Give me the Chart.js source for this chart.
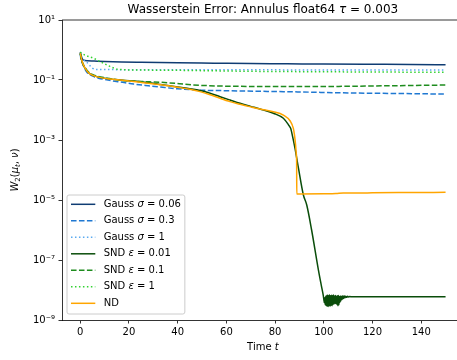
<!DOCTYPE html>
<html><head><meta charset="utf-8">
<script src="https://cdn.jsdelivr.net/npm/chart.js@4"></script>
<style>html,body{margin:0;padding:0;background:#fff;}canvas{display:block;}</style>
</head><body>
<canvas id="c" width="457" height="360"></canvas>
<script>
// ---- text ----
const titleSegs = [{t:'Wasserstein Error: Annulus float64 '},{t:'τ',i:1},{t:' = 0.003'}];
const xTitleSegs = [{t:'Time '},{t:'t',i:1}];
const yTitleSegs = [{t:'W',i:1},{t:'2',sub:1},{t:'('},{t:'μ',i:1},{t:'t',i:1,sub:1},{t:', '},{t:'ν',i:1},{t:')'}];
const seriesNames = [
  [{t:'Gauss '},{t:'σ',i:1},{t:' = 0.06'}],
  [{t:'Gauss '},{t:'σ',i:1},{t:' = 0.3'}],
  [{t:'Gauss '},{t:'σ',i:1},{t:' = 1'}],
  [{t:'SND '},{t:'ε',i:1},{t:' = 0.01'}],
  [{t:'SND '},{t:'ε',i:1},{t:' = 0.1'}],
  [{t:'SND '},{t:'ε',i:1},{t:' = 1'}],
  [{t:'ND'}]
];
const seriesLabels = ['Gauss σ = 0.06','Gauss σ = 0.3','Gauss σ = 1','SND ε = 0.01','SND ε = 0.1','SND ε = 1','ND'];

// ---- ticks ----
const xTicks = [0,20,40,60,80,100,120,140];
const yTicks = [1e-9,1e-7,1e-5,1e-3,1e-1,1e1];
const yTickLabels = ['10⁻⁹','10⁻⁷','10⁻⁵','10⁻³','10⁻¹','10¹'];

// ---- data ----
const tGauss006 = [0,0.5,1.3,3,5.7,10,17,25,40,55,70,85,100,125,150];
const vGauss006 = [0.85,0.6,0.46,0.44,0.43,0.415,0.40,0.39,0.375,0.365,0.355,0.348,0.34,0.332,0.324];

const tGauss03 = [0,0.2,0.8,1.6,2.9,4,5.7,7.5,9.8,13,17.3,22,28,33,40,49,60,74,90,110,130,150];
const vGauss03 = [0.75,0.55,0.38,0.26,0.175,0.15,0.129,0.115,0.105,0.094,0.084,0.073,0.064,0.058,0.051,0.046,0.044,0.042,0.040,0.037,0.0355,0.034];

const tGauss1 = [0,0.3,1,2,3,4,5,6,8,12,20,40,70,100,150];
const vGauss1 = [0.8,0.65,0.5,0.42,0.37,0.3,0.25,0.228,0.223,0.222,0.221,0.22,0.218,0.217,0.215];

const tSnd001 = [0,0.5,1,2,3,4.3,6,8.4,12,17.3,25,33,40,45,49.2,53,57.4,61.5,65.6,70,73.8,79.3,83.4,85.5,86.4,87.2,88.2,89.6,91.6,93,95,97.8,99,99.8,
  100.0,100.2,100.4,100.6,100.8,101.0,101.2,101.4,101.6,101.8,102.0,102.2,102.4,102.6,102.8,103.0,103.2,103.4,103.6,103.8,
  104.0,104.2,104.4,104.6,104.8,105.0,105.2,105.4,105.6,105.8,106.0,106.2,106.4,106.6,106.8,107.0,107.2,107.5,107.8,108.1,
  108.4,108.7,109.0,109.4,109.8,110.2,110.6,111,120,135,150];
const vSnd001 = [0.76,0.48,0.35,0.245,0.19,0.155,0.135,0.12,0.109,0.099,0.087,0.071,0.058,0.051,0.0447,0.037,0.0278,0.0215,0.0167,0.0132,0.0108,0.0078,0.0053,0.0032,0.00245,0.0013,5.2e-4,1.15e-4,1.5e-5,6.8e-6,1.0e-6,4.6e-8,1.4e-8,6.5e-9,
  5.0e-9,3.8e-9,5.5e-9,3.2e-9,6.2e-9,3.0e-9,6.5e-9,2.9e-9,6.8e-9,2.8e-9,6.6e-9,3.0e-9,6.9e-9,2.9e-9,6.4e-9,3.1e-9,6.7e-9,3.0e-9,6.5e-9,3.3e-9,
  6.8e-9,3.4e-9,6.3e-9,3.6e-9,6.6e-9,3.5e-9,6.2e-9,3.3e-9,6.4e-9,3.0e-9,6.5e-9,3.2e-9,6.1e-9,3.9e-9,6.3e-9,4.3e-9,6.2e-9,4.8e-9,6.4e-9,5.2e-9,
  6.3e-9,5.5e-9,6.2e-9,5.7e-9,6.2e-9,5.8e-9,6.1e-9,6.0e-9,6.0e-9,6.0e-9,6.0e-9];

const tSnd01 = [0,0.5,1,2,3,4.3,6,8.4,12,17.3,25,33,50,75,100,125,150];
const vSnd01 = [0.78,0.5,0.37,0.26,0.2,0.162,0.142,0.126,0.112,0.096,0.089,0.084,0.066,0.061,0.061,0.064,0.068];

const tSnd1 = [0,1,1.8,3.6,5.7,7.7,10.5,13.2,15.2,18,25,40,70,100,125,150];
const vSnd1 = [0.85,0.74,0.68,0.6,0.52,0.43,0.33,0.26,0.23,0.22,0.215,0.21,0.195,0.188,0.184,0.18];

const tND = [0,0.5,1,2,3,4.3,6,8.4,12,17.3,25,33,40,45,49.2,53,57.4,61.5,65.6,70,73.8,79.3,83.4,86.2,87.5,88,88.4,88.7,88.85,88.9,90,100,105,108,115,120,135,150];
const vND = [0.78,0.5,0.36,0.25,0.19,0.155,0.135,0.12,0.108,0.098,0.083,0.069,0.0575,0.049,0.041,0.033,0.0245,0.019,0.0155,0.0127,0.0108,0.0088,0.0068,0.0043,0.00245,0.0014,0.0007,0.00035,0.00018,1.6e-5,1.6e-5,1.62e-5,1.65e-5,1.72e-5,1.7e-5,1.75e-5,1.78e-5,1.8e-5];

// ---- styles ----
const colors = ['#0f3c73','#1f78d2','#5aaaf0','#0a4d0a','#1e8c1e','#32d232','#ffa500'];
const dashes = [[],[5.55,2.4],[1.5,2.475],[],[5.55,2.4],[1.5,2.475],[]];
const FONT = '"DejaVu Sans", sans-serif';

const pts = (t, v) => t.map((x, i) => ({x: x, y: v[i]}));
const series = [[tGauss006,vGauss006],[tGauss03,vGauss03],[tGauss1,vGauss1],[tSnd001,vSnd001],[tSnd01,vSnd01],[tSnd1,vSnd1],[tND,vND]];

function setFont(ctx, s, size) {
  ctx.font = (s.i ? 'italic ' : '') + (s.sub ? Math.round(size*0.7) : size) + 'px ' + FONT;
}
function richWidth(ctx, segs, size) {
  let w = 0;
  segs.forEach(s => { setFont(ctx, s, size); w += ctx.measureText(s.t).width; });
  return w;
}
function drawRich(ctx, segs, x, y, size, align) {
  const w = richWidth(ctx, segs, size);
  let cx = align === 'center' ? x - w/2 : x;
  segs.forEach(s => {
    setFont(ctx, s, size);
    ctx.fillText(s.t, cx, y + (s.sub ? size*0.25 : 0));
    cx += ctx.measureText(s.t).width;
  });
}

const decor = {
  id: 'decor',
  afterDatasetsDraw(chart) {
    const ctx = chart.ctx, a = chart.chartArea, xs = chart.scales.x;
    ctx.save();
    ctx.strokeStyle = '#000'; ctx.lineWidth = 0.8;
    ctx.beginPath(); ctx.moveTo(a.left, a.top); ctx.lineTo(a.right, a.top); ctx.stroke();
    ctx.fillStyle = '#000';
    ctx.textBaseline = 'alphabetic';
    const cx = (xs.getPixelForValue(-7.5) + xs.getPixelForValue(157.5)) / 2;
    drawRich(ctx, titleSegs, cx, 12.5, 12, 'center');
    drawRich(ctx, xTitleSegs, cx, 349.5, 10, 'center');
    ctx.save();
    ctx.translate(17.5, (a.top + a.bottom) / 2);
    ctx.rotate(-Math.PI/2);
    drawRich(ctx, yTitleSegs, 0, 0, 10, 'center');
    ctx.restore();
    // legend
    let maxW = 0;
    seriesNames.forEach(s => { maxW = Math.max(maxW, richWidth(ctx, s, 10)); });
    const bx = a.left + 5, bh = 119, by = a.bottom - 6 - bh;
    const tx = bx + 36.7;
    const bw = tx - bx + maxW + 4;
    const r = 2;
    ctx.beginPath();
    ctx.moveTo(bx + r, by); ctx.lineTo(bx + bw - r, by); ctx.arcTo(bx + bw, by, bx + bw, by + r, r);
    ctx.lineTo(bx + bw, by + bh - r); ctx.arcTo(bx + bw, by + bh, bx + bw - r, by + bh, r);
    ctx.lineTo(bx + r, by + bh); ctx.arcTo(bx, by + bh, bx, by + bh - r, r);
    ctx.lineTo(bx, by + r); ctx.arcTo(bx, by, bx + r, by, r); ctx.closePath();
    ctx.fillStyle = 'rgba(255,255,255,0.8)'; ctx.fill();
    ctx.strokeStyle = '#cccccc'; ctx.lineWidth = 1; ctx.stroke();
    chart.data.datasets.forEach((ds, i) => {
      const yy = by + 9.3 + i * 16.5;
      ctx.strokeStyle = ds.borderColor; ctx.lineWidth = 1.5; ctx.setLineDash(ds.borderDash);
      ctx.beginPath(); ctx.moveTo(bx + 4, yy); ctx.lineTo(bx + 28.3, yy); ctx.stroke();
      ctx.setLineDash([]);
      ctx.fillStyle = '#000'; ctx.textBaseline = 'middle';
      drawRich(ctx, seriesNames[i], tx, yy, 10, 'left');
    });
    ctx.restore();
  }
};

new Chart(document.getElementById('c'), {
  type: 'line',
  data: {
    datasets: series.map((s, i) => ({
      label: seriesLabels[i],
      data: pts(s[0], s[1]),
      borderColor: colors[i],
      borderDash: dashes[i],
      borderWidth: 1.5,
      pointRadius: 0,
      fill: false,
      cubicInterpolationMode: 'monotone',
      order: 6 - i
    }))
  },
  options: {
    responsive: false,
    devicePixelRatio: 1,
    animation: false,
    layout: { padding: { top: 20, left: 0, right: 0, bottom: 0 } },
    plugins: { legend: { display: false }, tooltip: { enabled: false }, title: { display: false } },
    scales: {
      x: {
        type: 'linear',
        min: -7.5,
        max: 154.7,
        afterBuildTicks: sc => { sc.ticks = xTicks.map(v => ({ value: v })); },
        afterFit: sc => { sc.height = 40; },
        ticks: { font: { family: FONT, size: 10 }, color: '#000', padding: 3, maxRotation: 0, autoSkip: false,
                 callback: v => String(v) },
        grid: { drawOnChartArea: false, drawTicks: true, tickLength: 3.5, tickColor: '#000', tickWidth: 0.8 },
        border: { display: true, color: '#000', width: 0.8 }
      },
      y: {
        type: 'logarithmic',
        min: 1e-9,
        max: 10,
        afterBuildTicks: sc => { sc.ticks = yTicks.map(v => ({ value: v, major: true })); },
        afterFit: sc => { sc.width = 62; },
        ticks: { font: { family: FONT, size: 10 }, color: '#000', padding: 3.5, autoSkip: false,
                 callback: (v, idx) => yTickLabels[idx] },
        grid: { drawOnChartArea: false, drawTicks: true, tickLength: 3.5, tickColor: '#000', tickWidth: 0.8 },
        border: { display: true, color: '#000', width: 0.8 }
      }
    }
  },
  plugins: [decor]
});
</script>
</body></html>
